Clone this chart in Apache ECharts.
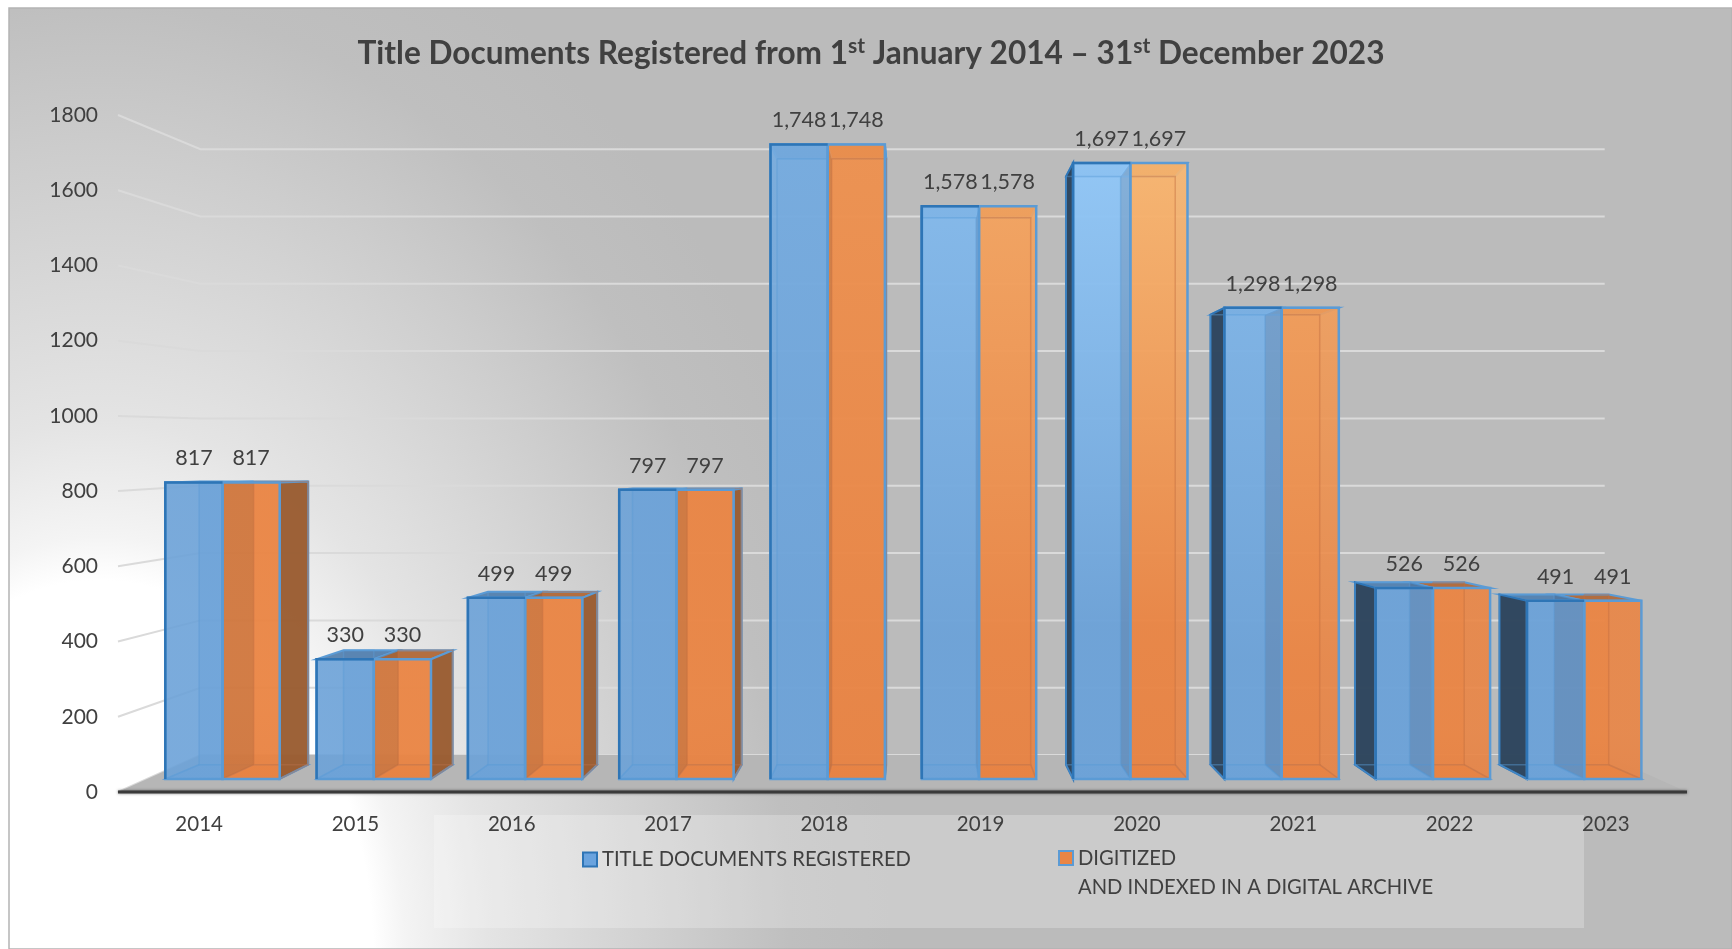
<!DOCTYPE html>
<html>
<head>
<meta charset="utf-8">
<style>
  html, body { margin: 0; padding: 0; background: #fff; }
  #chart { width: 1732px; height: 949px; }
</style>
<script src="https://cdn.jsdelivr.net/npm/echarts@6/dist/echarts.min.js"></script>
</head>
<body>
<div id="chart"></div>
<script>
const years = ['2014', '2015', '2016', '2017', '2018', '2019', '2020', '2021', '2022', '2023']
const registered = [817, 330, 499, 797, 1748, 1578, 1697, 1298, 526, 491]
const digitized = [817, 330, 499, 797, 1748, 1578, 1697, 1298, 526, 491]
const yTicks = [0, 200, 400, 600, 800, 1000, 1200, 1400, 1600, 1800]

const FONT = 'Lato'
const TEXT = '#404040'
const EDGE = '#5b9bd5'

// vanishing points for the fake 3D, wall is deeper than the bars
const BAR_VP = [915, 461], BAR_K = 0.045
const WALL_VP = [903, 440], WALL_K = 0.105
const GLOW = [1130, 150], GLOW_R = 400
const BAR_SHARE = 0.378
const BG_SCALE = 0.72

const recede = (p, vp, k) => [p[0] + (vp[0] - p[0]) * k, p[1] + (vp[1] - p[1]) * k]
const mix = (a, b, t) => a.map((c, i) => Math.round(c + (b[i] - c) * t))
const rgba = (c, a) => `rgba(${c[0]},${c[1]},${c[2]},${a})`

const BLUE = { base: [108, 162, 216], light: [148, 202, 250], top: 'rgba(85,130,175,0.95)', side: 'rgba(44,66,90,0.95)', inner: 'rgba(91,155,213,0.45)' }
const ORANGE = { base: [234, 133, 68], light: [250, 186, 116], top: 'rgba(176,106,60,0.95)', side: 'rgba(150,90,48,0.92)', inner: 'rgba(196,110,64,0.45)' }

const poly = (points, style, z2) => ({ type: 'polygon', shape: { points }, style, z2, silent: true })
const line = (points, stroke, lineWidth, z2) => ({
  type: 'polyline', shape: { points }, style: { stroke, lineWidth, fill: null }, z2, silent: true,
})

const renderBar = (first, pal) => (params, api) => {
  const idx = api.value(0)
  const val = api.value(1)
  const c = api.coord([idx, val])
  const zero = api.coord([idx, 0])
  const w = api.size([1, 0])[0] * BAR_SHARE
  const x0 = first ? c[0] - w : c[0]
  const x1 = first ? c[0] : c[0] + w
  const splitRight = c[0] > BAR_VP[0]

  const tl = [x0, c[1]], tr = [x1, c[1]], bl = [x0, zero[1]], br = [x1, zero[1]]
  const btl = recede(tl, BAR_VP, BAR_K), btr = recede(tr, BAR_VP, BAR_K)
  const bbl = recede(bl, BAR_VP, BAR_K), bbr = recede(br, BAR_VP, BAR_K)

  // the two boxes swap paint order either side of the vanishing point
  const base = (first !== splitRight) ? 10 : 20
  const children = []

  const glow = Math.max(0, 1 - Math.hypot(c[0] - GLOW[0], c[1] - GLOW[1]) / GLOW_R)
  const face = {
    type: 'linear', x: 0, y: 0, x2: 0, y2: 1,
    colorStops: [
      { offset: 0, color: rgba(mix(pal.base, pal.light, glow), 0.9) },
      { offset: 0.75, color: rgba(pal.base, 0.9) },
      { offset: 1, color: rgba(mix(pal.base, [225, 120, 60], first ? 0 : 0.2), 0.9) },
    ],
  }

  children.push(poly([btl, btr, bbr, bbl], { fill: rgba(pal.base, 0.55) }, base))
  children.push(poly([bl, br, bbr, bbl], { fill: rgba(pal.base, 0.8), stroke: EDGE, lineWidth: 1.5 }, base + 1))
  children.push(poly([tl, tr, btr, btl], { fill: pal.top, stroke: EDGE, lineWidth: 2 }, base + 2))

  // outer side wall, only one of the two can be seen
  if (first && x0 > BAR_VP[0]) {
    children.push(poly([tl, btl, bbl, bl], { fill: pal.side, stroke: '#2e75b6', lineWidth: 2 }, base + 3))
  }
  if (!first && x1 < BAR_VP[0]) {
    children.push(poly([tr, btr, bbr, br], { fill: pal.side, stroke: EDGE, lineWidth: 2 }, base + 3))
  }

  children.push(poly([tl, tr, br, bl], { fill: face }, base + 4))

  // inner wall at the split shows through the neighbour
  if (first && !splitRight) {
    children.push(poly([tr, btr, bbr, br], { fill: 'rgba(120,50,0,0.16)' }, 30))
  }
  if (!first && splitRight) {
    children.push(poly([tl, btl, bbl, bl], { fill: 'rgba(20,60,110,0.15)' }, 30))
  }

  // back edges, kept on the bar's own side of the split
  const keep = (p) => [first ? Math.min(p[0], x1) : Math.max(p[0], x0), p[1]]
  children.push(line([btl, btr, bbr, bbl, btl].map(keep), pal.inner, 1.5, 31))
  children.push(line([bl, bbl].map(keep), pal.inner, 1.5, 31))
  children.push(line([br, bbr].map(keep), pal.inner, 1.5, 31))

  children.push(poly([tl, tr, br, bl], { fill: null, stroke: EDGE, lineWidth: 2.5 }, 32))
  if (first) children.push(line([bl, tl, tr], '#2e75b6', 2.5, 33))

  children.push({
    type: 'text', z2: 40, silent: true,
    style: {
      text: val.toLocaleString('en-US'),
      x: (x0 + x1) / 2, y: c[1] - 24,
      align: 'center', verticalAlign: 'middle',
      font: `21.5px ${FONT}`, fill: TEXT,
    },
  })
  return { type: 'group', children }
}

const renderWall = (params, api) => {
  const sys = params.coordSys
  const y = api.coord([0, api.value(0)])[1]
  const left = sys.x - 3
  const right = sys.x + sys.width + 3
  const a = recede([left, y], WALL_VP, WALL_K)
  const b = recede([right, y], WALL_VP, WALL_K)
  return line([[left, y], a, b], '#dadada', 2, 1)
}

const renderFloor = (params, api) => {
  const sys = params.coordSys
  const y = api.coord([0, 0])[1]
  const left = sys.x - 3
  const right = sys.x + sys.width + 3
  const a = recede([left, y], WALL_VP, WALL_K)
  const b = recede([right, y], WALL_VP, WALL_K)
  return {
    type: 'group',
    children: [
      poly([[left, y], a, b, [right, y]], { fill: '#b6b6b6' }, 2),
      {
        type: 'line', silent: true, z2: 3,
        shape: { x1: left, y1: y, x2: right, y2: y },
        style: { stroke: '#3a3a3a', lineWidth: 3, shadowBlur: 3, shadowColor: 'rgba(0,0,0,0.5)' },
      },
    ],
  }
}

const chart = echarts.init(document.getElementById('chart'))
const sup = { fontFamily: FONT, fontWeight: 'bold', fontSize: 21, color: TEXT, verticalAlign: 'top', lineHeight: 26, padding: [0, 0, 12, 0] }
const head = { fontFamily: FONT, fontWeight: 'bold', fontSize: 31.6, color: TEXT, lineHeight: 36 }

chart.setOption({
  animation: false,
  backgroundColor: '#fff',
  textStyle: { fontFamily: FONT },
  title: {
    text: '{h|Title Documents Registered from 1}{s|st}{h| January 2014 – 31}{s|st}{h| December 2023}',
    left: 866, top: 31, textAlign: 'center',
    textStyle: { rich: { h: head, s: sup } },
  },
  graphic: {
    elements: [
      {
        // scaled so the light patch is an ellipse, taller than it is wide
        type: 'rect', z: -10, silent: true,
        scaleX: BG_SCALE,
        shape: { x: 9 / BG_SCALE, y: 8, width: 1723 / BG_SCALE, height: 941 },
        style: {
          fill: new echarts.graphic.RadialGradient(100 / BG_SCALE, 960, 1100, [
            { offset: 0, color: '#ffffff' },
            { offset: 0.345, color: '#ffffff' },
            { offset: 0.385, color: '#f4f4f4' },
            { offset: 0.49, color: '#e4e4e4' },
            { offset: 0.73, color: '#cdcdcd' },
            { offset: 0.87, color: '#bfbfbf' },
            { offset: 1, color: '#bbbbbb' },
          ], true),
        },
      },
      {
        type: 'rect', z: -9, silent: true,
        shape: { x: 9, y: 8, width: 1723, height: 941 },
        style: { fill: null, stroke: '#b4b4b4', lineWidth: 1.5 },
      },
      {
        type: 'rect', z: -9, silent: true,
        shape: { x: 434, y: 815, width: 1150, height: 113 },
        style: { fill: 'rgba(255,255,255,0.24)' },
      },
    ],
  },
  legend: [
    {
      data: [{ name: 'TITLE DOCUMENTS REGISTERED', icon: 'rect', itemStyle: { color: '#6aa3de', borderColor: '#2e75b6', borderWidth: 2 } }],
      left: 582, top: 849.5, padding: 0,
      itemWidth: 14, itemHeight: 14, itemGap: 0,
      selectedMode: false,
      textStyle: { color: TEXT, fontSize: 20.2, fontFamily: FONT },
    },
    {
      // blank first line keeps the swatch level with DIGITIZED
      data: [{ name: 'DIGITIZED\nAND INDEXED IN A DIGITAL ARCHIVE', icon: 'rect', itemStyle: { color: '#ea8544', borderColor: EDGE, borderWidth: 2 } }],
      formatter: (name) => '\n' + name,
      left: 1058, top: 814.5, padding: 0,
      itemWidth: 14, itemHeight: 14, itemGap: 0,
      selectedMode: false,
      textStyle: { color: TEXT, fontSize: 20.2, fontFamily: FONT, lineHeight: 29 },
    },
  ],
  grid: [
    { left: 121, top: 115, width: 1563, height: 677 },
    { left: 146.85, top: 125.6, width: 1513, height: 653.4 },
  ],
  xAxis: [
    {
      gridIndex: 0, type: 'category', data: years,
      axisLine: { show: false }, axisTick: { show: false },
      axisLabel: { color: TEXT, fontSize: 20.5, fontFamily: FONT, margin: 22 },
    },
    { gridIndex: 1, type: 'category', data: years, show: false },
  ],
  yAxis: [
    {
      gridIndex: 0, type: 'value', min: 0, max: 1800, interval: 200,
      axisLine: { show: false }, axisTick: { show: false }, splitLine: { show: false },
      axisLabel: { color: TEXT, fontSize: 21, fontFamily: FONT, margin: 23, formatter: (v) => String(v) },
    },
    { gridIndex: 1, type: 'value', min: 0, max: 1800, interval: 200, show: false, splitLine: { show: false } },
  ],
  series: [
    { type: 'custom', name: 'wall', xAxisIndex: 0, yAxisIndex: 0, silent: true, clip: false, renderItem: renderWall, encode: { y: 0 }, data: yTicks.map((v) => [v]) },
    { type: 'custom', name: 'floor', xAxisIndex: 0, yAxisIndex: 0, silent: true, clip: false, renderItem: renderFloor, data: [[0]] },
    {
      type: 'custom', name: 'TITLE DOCUMENTS REGISTERED', xAxisIndex: 1, yAxisIndex: 1, silent: true, clip: false,
      renderItem: renderBar(true, BLUE), encode: { x: 0, y: 1 },
      data: registered.map((v, i) => [i, v]),
    },
    {
      type: 'custom', name: 'DIGITIZED\nAND INDEXED IN A DIGITAL ARCHIVE', xAxisIndex: 1, yAxisIndex: 1, silent: true, clip: false,
      renderItem: renderBar(false, ORANGE), encode: { x: 0, y: 1 },
      data: digitized.map((v, i) => [i, v]),
    },
  ],
})

window.addEventListener('resize', () => chart.resize())
</script>
</body>
</html>
